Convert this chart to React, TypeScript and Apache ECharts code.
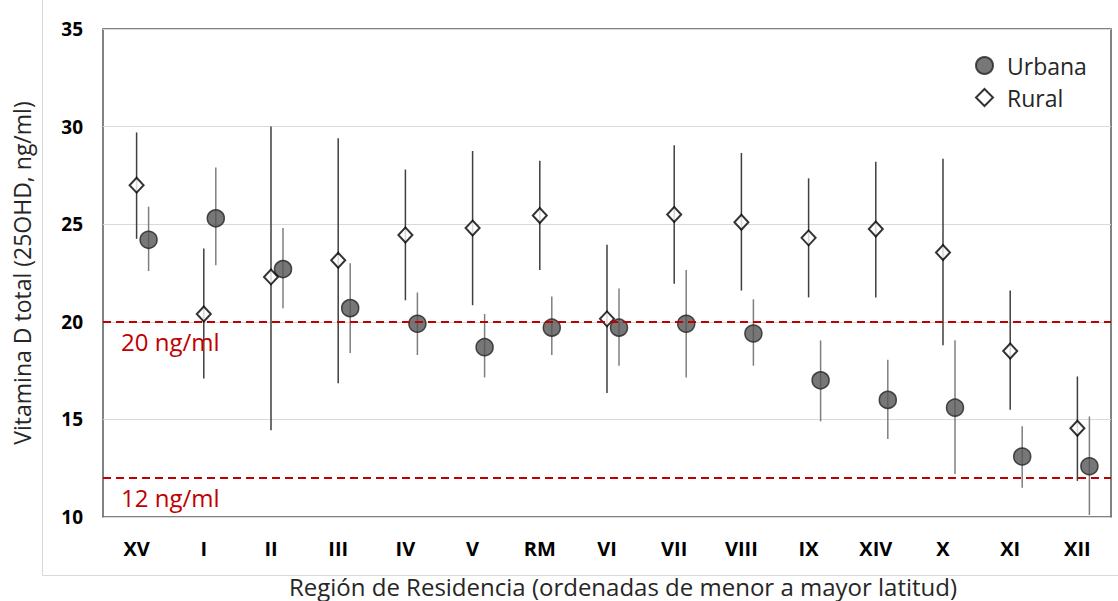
import React, { useEffect, useRef } from "react";
import * as echarts from "echarts";

const categories = ["XV", "I", "II", "III", "IV", "V", "RM", "VI", "VII", "VIII", "IX", "XIV", "X", "XI", "XII"];
const urbanMean = [24.2, 25.3, 22.7, 20.7, 19.9, 18.7, 19.7, 19.7, 19.9, 19.4, 17.0, 16.0, 15.6, 13.1, 12.6];
const urbanLow = [22.6, 22.9, 20.7, 18.4, 18.3, 17.15, 18.3, 17.75, 17.15, 17.75, 14.9, 14.0, 12.2, 11.5, 10.1];
const urbanHigh = [25.9, 27.9, 24.8, 23.0, 21.5, 20.4, 21.3, 21.7, 22.65, 21.15, 19.05, 18.05, 19.05, 14.65, 15.15];
const ruralMean = [27.0, 20.4, 22.3, 23.15, 24.45, 24.8, 25.45, 20.15, 25.5, 25.1, 24.3, 24.75, 23.55, 18.5, 14.55];
const ruralLow = [24.25, 17.1, 14.45, 16.85, 21.1, 20.85, 22.65, 16.35, 21.95, 21.6, 21.25, 21.25, 18.8, 15.5, 11.85];
const ruralHigh = [29.7, 23.75, 30.0, 29.4, 27.8, 28.75, 28.25, 23.95, 29.05, 28.65, 27.35, 28.2, 28.35, 21.6, 17.2];
const thresholds = [20, 12];
const yTicks = { min: 10, max: 35, interval: 5 };

const URBAN_OFFSET = 12;
const FONT = "'Open Sans', 'Noto Sans', sans-serif";

function errorBars(name: string, low: number[], high: number[], offset: number, color: string) {
  return {
    name: name + "-err",
    type: "custom",
    z: 1,
    silent: true,
    encode: { x: 0, y: [1, 2] },
    data: categories.map((_, i) => [i, low[i], high[i]]),
    renderItem: (params: any, api: any) => {
      const i = api.value(0);
      const lo = api.coord([i, api.value(1)]);
      const hi = api.coord([i, api.value(2)]);
      return {
        type: "line",
        shape: { x1: lo[0] + offset, y1: lo[1], x2: hi[0] + offset, y2: hi[1] },
        style: { stroke: color, lineWidth: 1.5 },
      };
    },
  };
}

export default function App() {
  const ref = useRef<HTMLDivElement>(null);
  useEffect(() => {
    if (!ref.current) return;
    const chart = echarts.init(ref.current, null, { renderer: "svg" });
    chart.setOption({
      animation: false,
      backgroundColor: "#ffffff",
      textStyle: { fontFamily: FONT },
      grid: {
        left: 103,
        right: 7,
        top: 29,
        bottom: 84,
        show: true,
        borderColor: "#595959",
        borderWidth: 1.5,
      },
      legend: {
        left: 970,
        top: 49,
        orient: "vertical",
        itemWidth: 17,
        itemHeight: 17,
        itemGap: 9,
        textStyle: { fontSize: 23, color: "#262626", fontFamily: FONT, padding: [0, 0, 0, 9] },
        data: [
          { name: "Urbana", icon: "circle" },
          { name: "Rural", icon: "diamond" },
        ],
      },
      xAxis: {
        type: "category",
        data: categories,
        boundaryGap: true,
        axisLine: { show: false },
        axisTick: { show: false },
        axisLabel: { fontSize: 20, fontWeight: "bold", color: "#000", margin: 21, fontFamily: FONT },
      },
      yAxis: {
        type: "value",
        min: yTicks.min,
        max: yTicks.max,
        interval: yTicks.interval,
        axisLine: { show: false },
        axisTick: { show: false },
        splitLine: { lineStyle: { color: "#d9d9d9", width: 1 } },
        axisLabel: { fontSize: 19, fontWeight: "bold", color: "#000", margin: 20, fontFamily: FONT },
        name: "Vitamina D total (25OHD, ng/ml)",
        nameLocation: "middle",
        nameGap: 70,
        nameTextStyle: { fontSize: 23, color: "#262626", fontFamily: FONT },
      },
      graphic: [
        {
          type: "line",
          shape: { x1: 42.5, y1: 0, x2: 42.5, y2: 575.5 },
          style: { stroke: "#d9d9d9", lineWidth: 1 },
        },
        {
          type: "line",
          shape: { x1: 42.5, y1: 575.5, x2: 1118, y2: 575.5 },
          style: { stroke: "#d9d9d9", lineWidth: 1 },
        },
        {
          type: "text",
          x: 623,
          y: 586,
          style: {
            text: "Región de Residencia (ordenadas de menor a mayor latitud)",
            fontSize: 24,
            fontFamily: FONT,
            fill: "#262626",
            align: "center",
            verticalAlign: "middle",
          },
        },
      ],
      series: [
        errorBars("Rural", ruralLow, ruralHigh, 0, "#3f3f3f"),
        errorBars("Urbana", urbanLow, urbanHigh, URBAN_OFFSET, "#7f7f7f"),
        {
          name: "Urbana",
          type: "scatter",
          z: 3,
          symbol: "circle",
          symbolSize: 17,
          symbolOffset: [URBAN_OFFSET, 0],
          itemStyle: { color: "#555555", borderColor: "#222222", borderWidth: 1.5 },
          data: categories.map((c, i) => [c, urbanMean[i]]),
          markLine: {
            silent: true,
            symbol: "none",
            lineStyle: { color: "#C00000", type: [8, 5], width: 2 },
            label: {
              show: true,
              position: "insideStartBottom",
              formatter: (p: any) => p.value + " ng/ml",
              color: "#C00000",
              fontSize: 24,
              fontFamily: FONT,
              distance: [18, 8],
            },
            data: thresholds.map((t) => ({ yAxis: t })),
          },
        },
        {
          name: "Rural",
          type: "scatter",
          z: 4,
          symbol: "diamond",
          symbolSize: [14, 15],
          itemStyle: { color: "#ffffff", borderColor: "#000000", borderWidth: 2 },
          data: categories.map((c, i) => [c, ruralMean[i]]),
        },
      ],
    });
    return () => chart.dispose();
  }, []);
  return (
    <div
      ref={ref}
      style={{ position: "fixed", left: 0, top: 0, width: 1118, height: 601 }}
    />
  );
}
